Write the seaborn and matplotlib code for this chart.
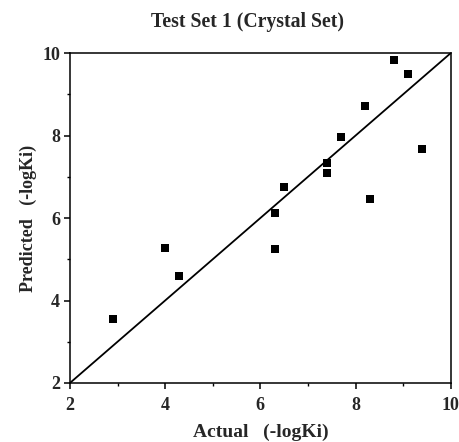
import numpy as np
import pandas as pd
import seaborn as sns
import matplotlib.pyplot as plt
import matplotlib.ticker as ticker

# Values
actual = [2.9, 4.0, 4.3, 6.3, 6.3, 6.5, 7.4, 7.4, 7.7, 8.2, 8.3, 8.8, 9.1, 9.4]
predicted = [3.55, 5.28, 4.6, 5.25, 6.13, 6.74, 7.09, 7.33, 7.97, 8.72, 6.45, 9.83, 9.5, 7.68]
diag = [2, 10]
major_ticks = [2, 4, 6, 8, 10]

sns.set_theme(style="white")
plt.rcParams["font.family"] = ["Liberation Serif", "DejaVu Serif"]

df = pd.DataFrame({"actual": actual, "predicted": predicted})

fig = plt.figure(figsize=(4.6, 4.42), dpi=100)
ax = fig.add_axes([0.152, 0.1335, 0.828, 0.7465])

# identity line
ax.plot(diag, diag, color="black", linewidth=1.3)
sns.scatterplot(data=df, x="actual", y="predicted", marker="s", s=30,
                color="black", edgecolor="black", linewidth=0, ax=ax)

ax.set_xlim(2, 10)
ax.set_ylim(2, 10)
ax.xaxis.set_major_locator(ticker.FixedLocator(major_ticks))
ax.yaxis.set_major_locator(ticker.FixedLocator(major_ticks))
ax.xaxis.set_minor_locator(ticker.MultipleLocator(1))
ax.yaxis.set_minor_locator(ticker.MultipleLocator(1))
ax.tick_params(which="major", direction="out", length=4, width=1.1, color="black",
               bottom=True, left=True, top=False, right=False, labelsize=13)
ax.tick_params(axis="x", which="major", pad=6)
ax.tick_params(axis="y", which="major", pad=3)
ax.tick_params(which="minor", direction="out", length=2.5, width=1.0, color="black",
               bottom=True, left=True, top=False, right=False)
for lbl in ax.get_xticklabels() + ax.get_yticklabels():
    lbl.set_fontweight("bold")

for sp in ax.spines.values():
    sp.set_color("black")
    sp.set_linewidth(1.1)

ax.set_title("Test Set 1 (Crystal Set)", fontsize=14.2, fontweight="bold", pad=19, x=0.467)
ax.set_xlabel("Actual   (-logKi)", fontsize=14, fontweight="bold", labelpad=7)
ax.set_ylabel("Predicted   (-logKi)", fontsize=13, fontweight="bold", labelpad=4)

fig.savefig("out.png", dpi=100)
